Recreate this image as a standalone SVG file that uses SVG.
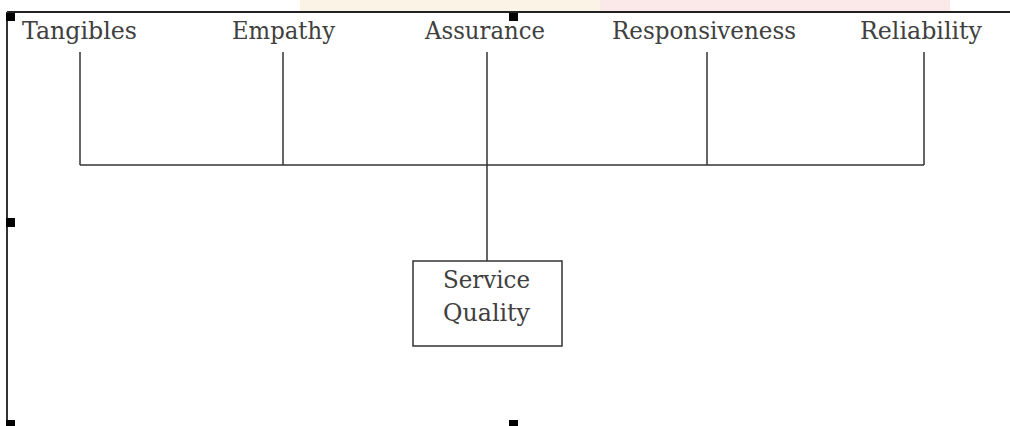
<svg xmlns="http://www.w3.org/2000/svg" width="1010" height="426" viewBox="0 0 1010 426">
  <style>
    .lbl { font-family: "DejaVu Serif", "Liberation Serif", serif; font-size: 24px; fill: #404040; }
    .ln { stroke: #333; stroke-width: 1.5; fill: none; }
    .handle { fill: #000; }
  </style>
  <rect x="0" y="0" width="1010" height="426" fill="#fff"/>
  <rect x="300" y="0" width="300" height="11" fill="#fbf3e6"/>
  <rect x="600" y="0" width="350" height="11" fill="#fbe9ea"/>
  <g id="frame">
    <line x1="7" y1="12" x2="1010" y2="12" stroke="#222" stroke-width="2"/>
    <line x1="7" y1="12" x2="7" y2="426" stroke="#333" stroke-width="2"/>
    <rect class="handle" x="6" y="13" width="9" height="8"/>
    <rect class="handle" x="509" y="13" width="9" height="8"/>
    <rect class="handle" x="6" y="218" width="9" height="9"/>
    <rect class="handle" x="6" y="420" width="9" height="6"/>
    <rect class="handle" x="509" y="420" width="9" height="6"/>
  </g>
  <g id="connectors">
    <line class="ln" x1="80" y1="52" x2="80" y2="165"/>
    <line class="ln" x1="283" y1="52" x2="283" y2="165"/>
    <line class="ln" x1="487" y1="52" x2="487" y2="261"/>
    <line class="ln" x1="707" y1="52" x2="707" y2="165" stroke-width="2.2"/>
    <line class="ln" x1="924" y1="52" x2="924" y2="165"/>
    <line class="ln" x1="80" y1="165" x2="924" y2="165"/>
  </g>
  <g id="tangibles"><text class="lbl" x="22" y="39" textLength="115" lengthAdjust="spacingAndGlyphs">Tangibles</text></g>
  <g id="empathy"><text class="lbl" x="232" y="39" textLength="103" lengthAdjust="spacingAndGlyphs">Empathy</text></g>
  <g id="assurance"><text class="lbl" x="425" y="39" textLength="120" lengthAdjust="spacingAndGlyphs">Assurance</text></g>
  <g id="responsiveness"><text class="lbl" x="612" y="39" textLength="184" lengthAdjust="spacingAndGlyphs">Responsiveness</text></g>
  <g id="reliability"><text class="lbl" x="860" y="39" textLength="122" lengthAdjust="spacingAndGlyphs">Reliability</text></g>
  <g id="service-quality">
    <rect class="ln" x="413" y="261" width="149" height="85"/>
    <text class="lbl" x="443" y="288" textLength="87" lengthAdjust="spacingAndGlyphs">Service</text>
    <text class="lbl" x="443" y="321" textLength="87" lengthAdjust="spacingAndGlyphs">Quality</text>
  </g>
</svg>
